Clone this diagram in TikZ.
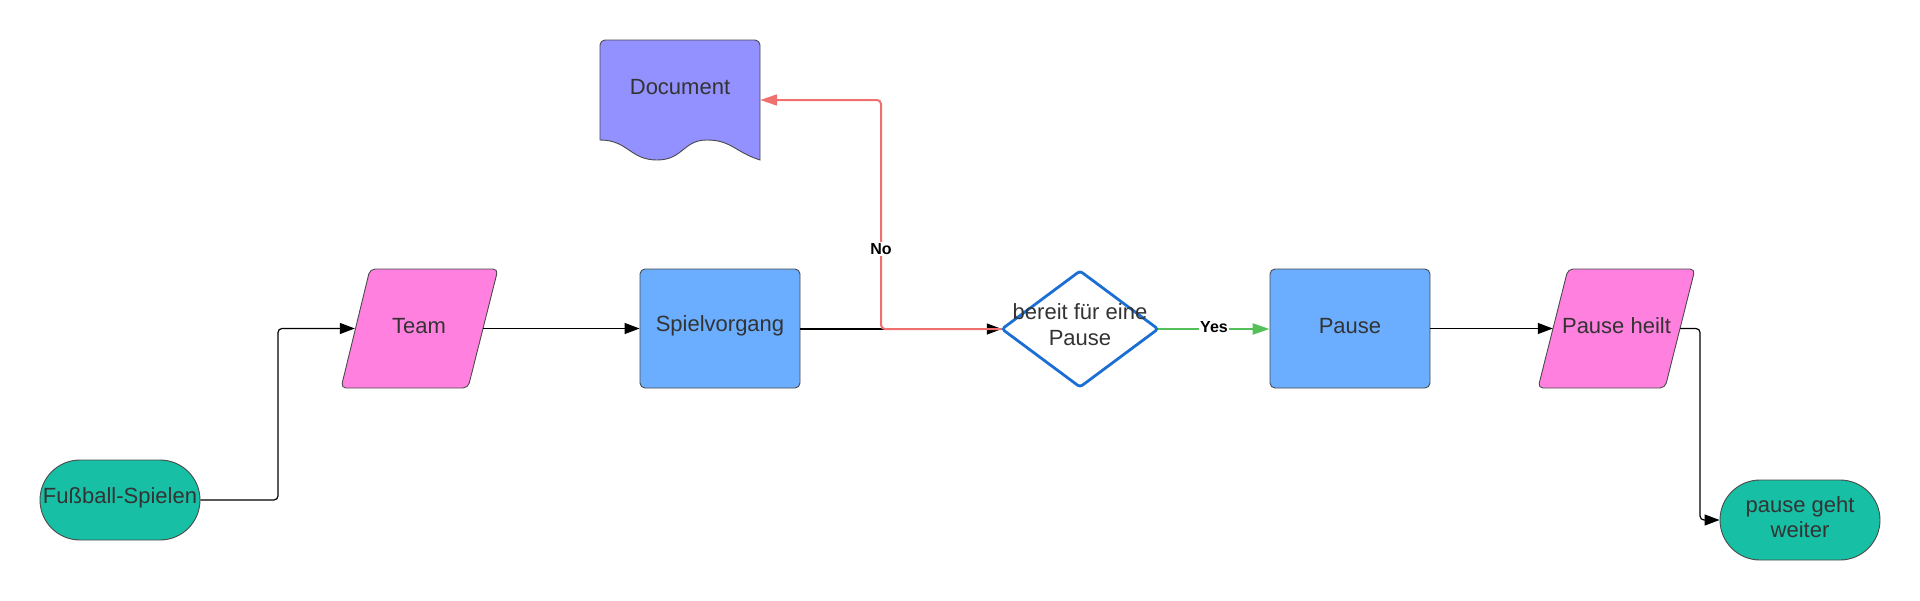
\documentclass[tikz,border=0pt]{standalone}
\usepackage{fontspec}
\setmainfont{Liberation Sans}
\usetikzlibrary{arrows.meta,shapes.geometric}
\definecolor{teal1}{HTML}{17BFA5}
\definecolor{pink1}{HTML}{FF80DF}
\definecolor{blue1}{HTML}{6BAEFF}
\definecolor{purp1}{HTML}{9391FF}
\definecolor{red1}{HTML}{F07070}
\definecolor{green1}{HTML}{55C05A}
\definecolor{dblue}{HTML}{1B6FD4}
\definecolor{txt}{HTML}{333333}
\definecolor{bord}{HTML}{4A4A4A}
\begin{document}
\begin{tikzpicture}[x=1pt,y=-1pt,
  every node/.style={font=\fontsize{22}{25}\selectfont, text=txt},
  term/.style={draw=bord, line width=0.9pt, fill=teal1, rounded corners=40pt, minimum width=160pt, minimum height=80pt, inner sep=0pt, align=center},
  procbox/.style={draw=bord, line width=0.9pt, fill=blue1, rounded corners=5pt, minimum width=160pt, minimum height=119pt, inner sep=0pt},
  anchorbox/.style={minimum width=#1, minimum height=119pt, inner sep=0pt},
  para/.style={draw=bord, line width=0.9pt, fill=pink1, rounded corners=5pt},
  conn/.style={draw=black, line width=1.2pt, rounded corners=4pt, -{Triangle[length=15pt,width=11pt]}},
  lbl/.style={font=\fontsize{16}{18}\selectfont\bfseries, text=black, fill=white, inner sep=1.5pt}
]
\useasboundingbox (0,0) rectangle (1920,600);

% Fussball
\node[term] (start) at (120,500) {};
\node (starttxt) at (120,498) {Fußball-Spielen};

% Team parallelogram
\draw[para] (341,388) -- (370,269) -- (498,269) -- (468,388) -- cycle;
\node[anchorbox=128pt] (team) at (419,328.5) {};
\node (teamtxt) at (419,326) {Team};

% Spielvorgang
\node[procbox] (spiel) at (720,328.5) {};
\node (spieltxt) at (720,326) {Spielvorgang};

% Document
\draw[draw=bord, line width=0.9pt, fill=purp1]
  (600,140) -- (600,45) [rounded corners=5pt] -- (600,40) -- (760,40) [sharp corners] -- (760,160)
  .. controls (735,152) and (731,140) .. (707,140)
  .. controls (683,140) and (683,160) .. (657,160)
  .. controls (630,160) and (628,140) .. (600,140) -- cycle;
\node[minimum width=160pt, minimum height=120pt, inner sep=0pt] (doc) at (680,100) {};
\node (doctxt) at (680,87) {Document};

% Diamond
\draw[draw=dblue, line width=2.8pt, fill=white, rounded corners=3pt]
  (1002,329) -- (1080,271) -- (1158,329) -- (1080,387) -- cycle;
\node[minimum width=156pt, minimum height=116pt, inner sep=0pt] (dia) at (1080,329) {};
\node[align=center, font=\fontsize{22}{26}\selectfont] (diatxt) at (1080,325) {bereit für eine\\Pause};

% Pause
\node[procbox] (pause) at (1350,328.5) {};
\node (pausetxt) at (1350,326) {Pause};

% Pause heilt parallelogram
\draw[para] (1538,388) -- (1568,269) -- (1695,269) -- (1665,388) -- cycle;
\node[anchorbox=127pt] (heilt) at (1616.5,328.5) {};
\node (heilttxt) at (1616.5,326) {Pause heilt};

% pause geht weiter
\node[term] (end) at (1800,520) {};
\node[align=center] (endtxt) at (1800,517) {pause geht\\weiter};

% Connectors
\draw[conn] (start.east) -- (278,500) |- (team.west);
\draw[conn] (team.east) -- (spiel.west);
\draw[conn] (spiel.east |- dia.west) -- (dia.west);
\draw[draw=red1, line width=2pt, rounded corners=4pt, -{Triangle[length=17pt,width=11pt]}]
  (dia.west) -- (881,329) |- (doc.east);
\node[lbl] (no) at (881,249) {No};
\draw[draw=green1, line width=2.2pt, -{Triangle[length=17pt,width=11pt]}] (dia.east) -- (pause.west |- dia.east);
\node[lbl] (yes) at (1214,327) {Yes};
\draw[conn] (pause.east) -- (heilt.west);
\draw[conn] (heilt.east) -- (1700,328.5) |- (end.west);
\end{tikzpicture}
\end{document}
